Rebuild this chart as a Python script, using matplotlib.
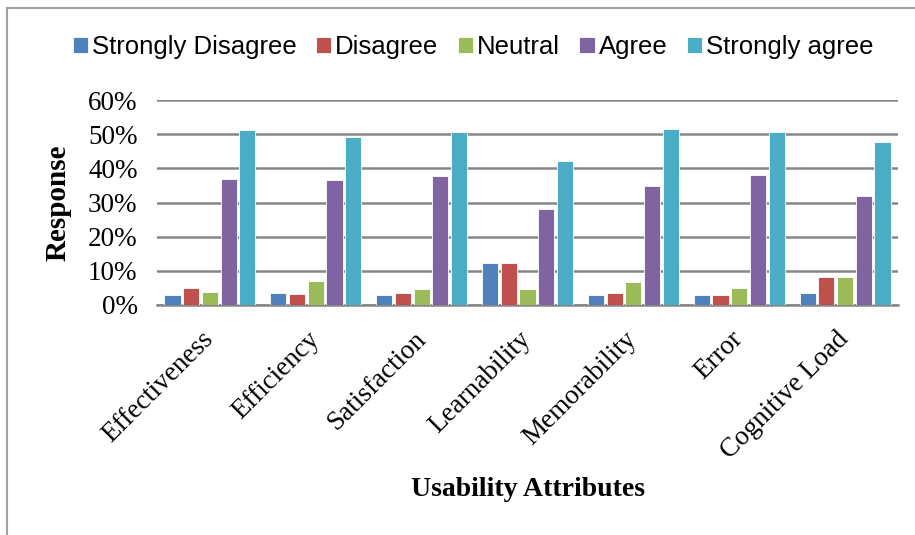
import numpy as np
import matplotlib
matplotlib.use('Agg')
import matplotlib.pyplot as plt
from matplotlib.lines import Line2D

attributes = ['Effectiveness', 'Efficiency', 'Satisfaction', 'Learnability',
              'Memorability', 'Error', 'Cognitive Load']
series_names = ['Strongly Disagree', 'Disagree', 'Neutral', 'Agree', 'Strongly agree']
strongly_disagree = [0.028, 0.036, 0.028, 0.123, 0.028, 0.028, 0.036]
disagree = [0.049, 0.032, 0.035, 0.123, 0.034, 0.028, 0.081]
neutral = [0.038, 0.069, 0.046, 0.048, 0.068, 0.051, 0.081]
agree = [0.368, 0.365, 0.378, 0.281, 0.347, 0.380, 0.319]
strongly_agree = [0.511, 0.491, 0.505, 0.421, 0.516, 0.506, 0.476]
yticks = [0, 0.1, 0.2, 0.3, 0.4, 0.5, 0.6]

colors = ['#4F81BD', '#C0504D', '#9BBB59', '#8064A2', '#4BACC6']
serif = ['Liberation Serif', 'DejaVu Serif']

fig = plt.figure(figsize=(9.15, 5.35), dpi=100)
ax = fig.add_axes([157 / 915, 1 - 305 / 535, (898 - 157) / 915, (305 - 100) / 535])

x = np.arange(len(attributes))
w = 0.177
all_series = [strongly_disagree, disagree, neutral, agree, strongly_agree]
for i, vals in enumerate(all_series):
    ax.bar(x + (i - 2) * w, vals, width=w * 0.86, color=colors[i],
           edgecolor='white', linewidth=0.6, label=series_names[i], zorder=3)

ax.set_xlim(-0.5, len(attributes) - 0.5)
ax.set_ylim(0, 0.6)
ax.set_yticks(yticks)
ax.set_yticklabels([f'{int(round(t * 100))}%' for t in yticks], family=serif, fontsize=19.5)
ax.set_xticks(x)
ax.set_xticklabels(attributes, rotation=45, ha='right', va='center',
                   rotation_mode='anchor', family=serif, fontsize=19.5)
ax.tick_params(axis='both', length=0)
ax.tick_params(axis='x', pad=22)
ax.tick_params(axis='y', pad=14)

ax.grid(axis='y', color='#868686', linewidth=1.8, zorder=0)
for s in ['left', 'right', 'top']:
    ax.spines[s].set_visible(False)
ax.spines['bottom'].set_color('#868686')
ax.spines['bottom'].set_linewidth(1.8)

fig.text(528 / 915, 1 - 490 / 535, 'Usability Attributes', ha='center', va='center',
         family=serif, fontsize=20, fontweight='bold')
fig.text(58 / 915, 1 - 203 / 535, 'Response', ha='center', va='center', rotation=90,
         family=serif, fontsize=21, fontweight='bold')

fig.legend(loc='center', bbox_to_anchor=(0.517, 1 - 47 / 535), ncol=5, frameon=False,
           handlelength=0.6, handleheight=0.6, handletextpad=0.15, columnspacing=0.75,
           prop={'family': ['Liberation Sans', 'DejaVu Sans'], 'size': 18.5})

# outer chart border (left and top visible)
fig.add_artist(Line2D([7 / 915, 7 / 915], [0, 1 - 8 / 535], color='#a0a0a0', linewidth=1.5))
fig.add_artist(Line2D([7 / 915, 1], [1 - 8 / 535, 1 - 8 / 535], color='#a0a0a0', linewidth=1.5))

fig.savefig('out.png', dpi=100)
